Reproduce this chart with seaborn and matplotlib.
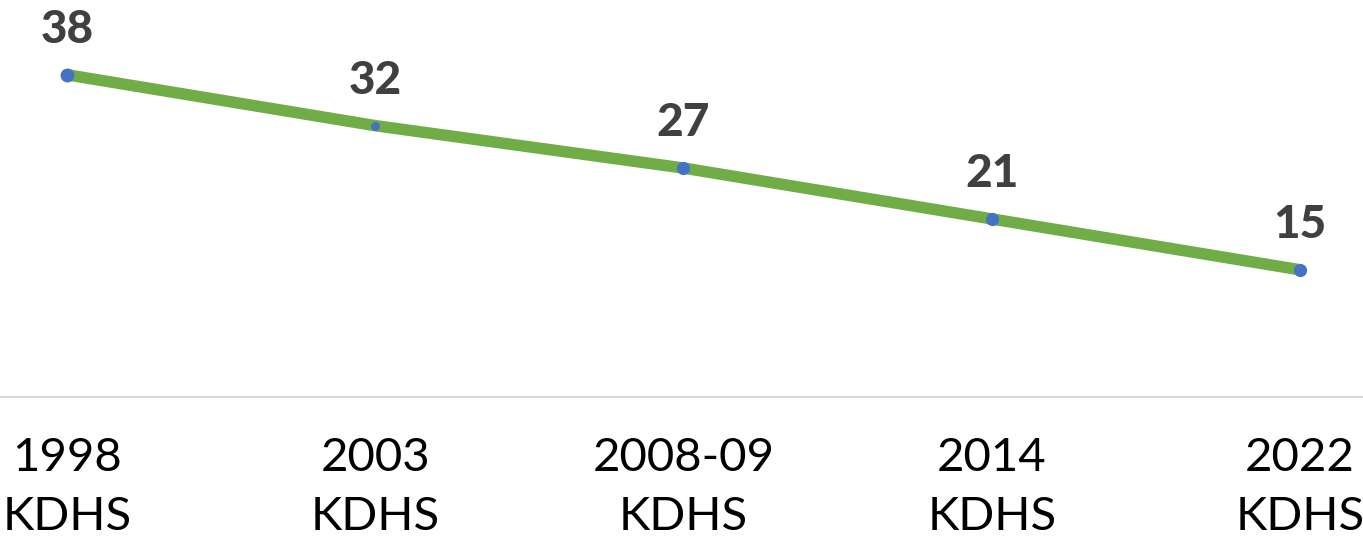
import matplotlib
matplotlib.use("Agg")
import matplotlib.pyplot as plt
import seaborn as sns
import pandas as pd

# Survey rounds and the indicator value for each round
surveys = ["1998\nKDHS", "2003\nKDHS", "2008-09\nKDHS", "2014\nKDHS", "2022\nKDHS"]
values = [38, 32, 27, 21, 15]

# Marker diameter per point (points)
marker_sizes = [10, 6.5, 9.5, 9.5, 9.5]

LINE_GREEN = "#70AD47"
MARKER_BLUE = "#4472C4"
LABEL_GREY = "#404040"

sns.set_theme(style="white")
plt.rcParams["font.family"] = ["Lato", "DejaVu Sans"]

df = pd.DataFrame({"pos": range(len(surveys)), "survey": surveys, "value": values})

fig = plt.figure(figsize=(13.63, 5.37), dpi=100)
ax = fig.add_axes([0, 1 - 397 / 537, 1, 397 / 537])

sns.lineplot(data=df, x="pos", y="value", color=LINE_GREEN, linewidth=8.3,
             solid_capstyle="butt", ax=ax, zorder=2)
for (_, row), ms in zip(df.iterrows(), marker_sizes):
    ax.plot(row["pos"], row["value"], marker="o", markersize=ms,
            color=MARKER_BLUE, markeredgewidth=0, linestyle="none", zorder=3)

for _, row in df.iterrows():
    ax.annotate(f"{row['value']}", (row["pos"], row["value"]),
                xytext=(0, 32.5), textcoords="offset points",
                ha="center", va="center", fontsize=33, fontweight=900,
                color=LABEL_GREY)

spacing = 308.3
ax.set_xlim(-67 / spacing, 4 + 63 / spacing)
ax.set_ylim(0, 397 / 8.48)

ax.set_xticks(df["pos"])
ax.set_xticklabels(surveys, fontsize=34, fontweight="normal", color="black",
                   linespacing=1.5)
ax.tick_params(axis="x", length=0, pad=29)
ax.set_yticks([])
ax.set_xlabel("")
ax.set_ylabel("")

for side in ["top", "left", "right"]:
    ax.spines[side].set_visible(False)
ax.spines["bottom"].set_color("#D9D9D9")
ax.spines["bottom"].set_linewidth(1.5)
ax.patch.set_alpha(0)

fig.savefig("out.png", dpi=100)
